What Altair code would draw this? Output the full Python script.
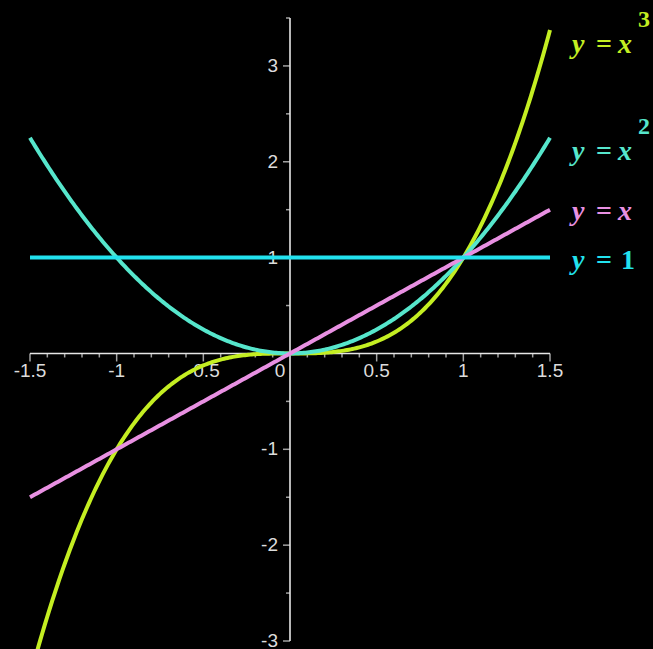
import numpy as np
import pandas as pd
import altair as alt

X_DOMAIN = [-1.5, 1.5]
Y_DOMAIN = [-3.0, 3.5]

# the four power functions y = x^n, drawn bottom to top
curve_names = ["x^3", "x^2", "x", "1"]
curve_powers = [3, 2, 1, 0]
curve_colors = ["#c4ee22", "#56e6cc", "#e890e2", "#22e2ee"]

# equation labels in the right margin (baseline height in data units)
label_base = [3.135, 2.019, 1.393, 0.882]
label_rhs = ["x", "x", "x", "1"]
label_sup = ["3", "2", "", ""]
label_x = 1.627

# axis ticks through the origin
x_tick_major = [-1.5, -1.0, -0.5, 0.5, 1.0, 1.5]
x_tick_text = ["-1.5", "-1", "-0.5", "0.5", "1", "1.5"]
x_tick_minor = [-1.4, -1.3, -1.2, -1.1, -0.9, -0.8, -0.7, -0.6, -0.4, -0.3, -0.2, -0.1,
                0.1, 0.2, 0.3, 0.4, 0.6, 0.7, 0.8, 0.9, 1.1, 1.2, 1.3, 1.4]
y_tick_major = [-3, -2, -1, 1, 2, 3]
y_tick_text = ["-3", "-2", "-1", "1", "2", "3"]
y_tick_half = [-2.5, -1.5, -0.5, 0.5, 1.5, 2.5, 3.5]

AXIS_COLOR = "#e6e6e6"
TICK_FONT = "Liberation Sans, Arial, sans-serif"
EQ_FONT = "Liberation Serif, Times New Roman, serif"

xs = np.linspace(X_DOMAIN[0], X_DOMAIN[1], 301)
color_scale = alt.Scale(domain=curve_names, range=curve_colors)


def X(field):
    return alt.X(field, type="quantitative",
                 scale=alt.Scale(domain=X_DOMAIN, nice=False, zero=False), axis=None)


def Y(field):
    return alt.Y(field, type="quantitative",
                 scale=alt.Scale(domain=Y_DOMAIN, nice=False, zero=False), axis=None)


layers = []

# axis lines
axes_df = pd.DataFrame({
    "x": [X_DOMAIN[0], 0.0], "x2": [X_DOMAIN[1], 0.0],
    "y": [0.0, Y_DOMAIN[0]], "y2": [0.0, Y_DOMAIN[1]],
})
layers.append(
    alt.Chart(axes_df).mark_rule(color=AXIS_COLOR, strokeWidth=1.6).encode(
        x=X("x"), x2="x2", y=Y("y"), y2="y2")
)

# x-axis ticks, hanging below the axis
xmaj = pd.DataFrame({"x": x_tick_major, "y": 0.0, "t": x_tick_text})
xmin = pd.DataFrame({"x": x_tick_minor, "y": 0.0})
layers.append(
    alt.Chart(xmaj).mark_tick(orient="vertical", size=8, thickness=1.5,
                              color=AXIS_COLOR, yOffset=4).encode(x=X("x"), y=Y("y"))
)
layers.append(
    alt.Chart(xmin).mark_tick(orient="vertical", size=4, thickness=1.5,
                              color=AXIS_COLOR, yOffset=2).encode(x=X("x"), y=Y("y"))
)
layers.append(
    alt.Chart(xmaj).mark_text(font=TICK_FONT, fontSize=19, color="#dcdcdc",
                              baseline="middle", align="center", dy=18).encode(
        x=X("x"), y=Y("y"), text="t:N")
)
layers.append(
    alt.Chart(pd.DataFrame({"x": [0.0], "y": [0.0], "t": ["0"]})).mark_text(
        font=TICK_FONT, fontSize=19, color="#dcdcdc",
        baseline="middle", align="center", dx=-10, dy=18).encode(
        x=X("x"), y=Y("y"), text="t:N")
)

# y-axis ticks, pointing left
ymaj = pd.DataFrame({"x": 0.0, "y": y_tick_major, "t": y_tick_text})
yhalf = pd.DataFrame({"x": 0.0, "y": y_tick_half})
layers.append(
    alt.Chart(ymaj).mark_tick(orient="horizontal", size=7, thickness=1.5,
                              color=AXIS_COLOR, xOffset=-3.5).encode(x=X("x"), y=Y("y"))
)
layers.append(
    alt.Chart(yhalf).mark_tick(orient="horizontal", size=4, thickness=1.5,
                               color=AXIS_COLOR, xOffset=-2).encode(x=X("x"), y=Y("y"))
)
layers.append(
    alt.Chart(ymaj).mark_text(font=TICK_FONT, fontSize=19, color="#dcdcdc",
                              baseline="middle", align="right", dx=-12).encode(
        x=X("x"), y=Y("y"), text="t:N")
)

# the curves
for name, p in zip(curve_names, curve_powers):
    df = pd.DataFrame({"x": xs, "y": xs ** p, "name": name})
    layers.append(
        alt.Chart(df).mark_line(strokeWidth=4, clip=False).encode(
            x=X("x"), y=Y("y"),
            color=alt.Color("name:N", scale=color_scale, legend=None))
    )

# equation labels: "y = x^n" and "y = 1"
labels = pd.DataFrame({
    "name": curve_names, "x": label_x, "y": label_base,
    "rhs": label_rhs, "sup": label_sup,
})
label_color = alt.Color("name:N", scale=color_scale, legend=None)

layers.append(
    alt.Chart(labels).mark_text(font=EQ_FONT, fontSize=28, fontStyle="italic",
                                fontWeight="bold", align="left",
                                baseline="alphabetic").encode(
        x=X("x"), y=Y("y"), text=alt.value("y"), color=label_color)
)
layers.append(
    alt.Chart(labels).mark_text(font=EQ_FONT, fontSize=28, fontWeight="bold",
                                align="left", baseline="alphabetic", dx=24).encode(
        x=X("x"), y=Y("y"), text=alt.value("="), color=label_color)
)
layers.append(
    alt.Chart(labels).transform_filter(alt.datum.rhs == "x").mark_text(
        font=EQ_FONT, fontSize=28, fontStyle="italic", fontWeight="bold",
        align="left", baseline="alphabetic", dx=46).encode(
        x=X("x"), y=Y("y"), text="rhs:N", color=label_color)
)
layers.append(
    alt.Chart(labels).transform_filter(alt.datum.rhs == "1").mark_text(
        font=EQ_FONT, fontSize=28, fontWeight="bold",
        align="left", baseline="alphabetic", dx=49).encode(
        x=X("x"), y=Y("y"), text="rhs:N", color=label_color)
)
layers.append(
    alt.Chart(labels).transform_filter(alt.datum.sup != "").mark_text(
        font=EQ_FONT, fontSize=24, fontWeight="bold",
        align="left", baseline="alphabetic", dx=66, dy=-26).encode(
        x=X("x"), y=Y("y"), text="sup:N", color=label_color)
)

chart = alt.layer(*layers).properties(
    width=520,
    height=623,
    background="black",
    padding={"left": 30, "top": 18, "right": 103, "bottom": 8},
    autosize=alt.AutoSizeParams(type="none"),
).configure_view(stroke=None)

chart.save("out.html", embed_options={"renderer": "svg", "actions": False})
